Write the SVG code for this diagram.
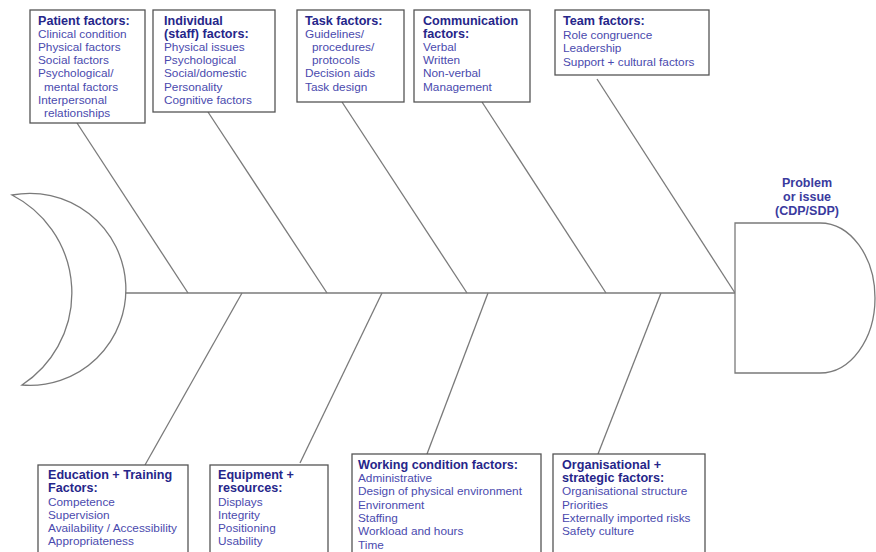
<svg xmlns="http://www.w3.org/2000/svg" width="876" height="552" viewBox="0 0 876 552">
<style>
.box{fill:#fff;stroke:#555;stroke-width:1.3}
.bone{stroke:#7a7a7a;stroke-width:1.3;fill:none}
.shape{fill:#fff;stroke:#7a7a7a;stroke-width:1.3}
text{font-family:"Liberation Sans",Arial,sans-serif}
.t{font-size:12.6px;font-weight:bold;fill:#26268a}
.i{font-size:11.8px;fill:#4a4aae}
.h{font-size:12.5px;font-weight:bold;fill:#3a3a9e}
</style>
<rect width="876" height="552" fill="#fff"/>
<g id="connectors">
<line class="bone" x1="124" y1="293" x2="735" y2="293"/>
<line class="bone" x1="77" y1="123" x2="188" y2="293"/>
<line class="bone" x1="208" y1="112" x2="327" y2="293"/>
<line class="bone" x1="342" y1="102" x2="467" y2="293"/>
<line class="bone" x1="482" y1="102" x2="606" y2="293"/>
<line class="bone" x1="597" y1="79" x2="735" y2="293"/>
<line class="bone" x1="242" y1="293" x2="145" y2="465"/>
<line class="bone" x1="382" y1="293" x2="300" y2="463"/>
<line class="bone" x1="488" y1="293" x2="427" y2="454"/>
<line class="bone" x1="661" y1="293" x2="598" y2="454"/>
</g>
<g id="tail">
<path class="shape" d="M12,195 A96,96 0 1 1 22,385 A110,110 0 0 0 12,195 Z"/>
</g>
<g id="head">
<path class="shape" d="M735,223 L820,223 A55,75 0 0 1 820,373 L735,373 Z"/>
<text class="h" text-anchor="middle" x="807" y="187">Problem</text>
<text class="h" text-anchor="middle" x="807" y="201">or issue</text>
<text class="h" text-anchor="middle" x="807" y="215">(CDP/SDP)</text>
</g>
<g id="patient">
<rect class="box" x="30" y="10" width="115" height="113"/>
<text class="t" x="38" y="24.5">Patient factors:</text>
<text class="i" x="38" y="37.5">Clinical condition</text>
<text class="i" x="38" y="50.8">Physical factors</text>
<text class="i" x="38" y="64.1">Social factors</text>
<text class="i" x="38" y="77.4">Psychological/</text>
<text class="i" x="44" y="90.7">mental factors</text>
<text class="i" x="38" y="104">Interpersonal</text>
<text class="i" x="44" y="117.3">relationships</text>
</g>
<g id="individual">
<rect class="box" x="153" y="10" width="122" height="102"/>
<text class="t" x="164" y="24.5">Individual</text>
<text class="t" x="164" y="37.8">(staff) factors:</text>
<text class="i" x="164" y="50.8">Physical issues</text>
<text class="i" x="164" y="64.1">Psychological</text>
<text class="i" x="164" y="77.4">Social/domestic</text>
<text class="i" x="164" y="90.7">Personality</text>
<text class="i" x="164" y="104">Cognitive factors</text>
</g>
<g id="task">
<rect class="box" x="297" y="10" width="107" height="92"/>
<text class="t" x="305" y="24.5">Task factors:</text>
<text class="i" x="305" y="37.5">Guidelines/</text>
<text class="i" x="312" y="50.8">procedures/</text>
<text class="i" x="312" y="64.1">protocols</text>
<text class="i" x="305" y="77.4">Decision aids</text>
<text class="i" x="305" y="90.7">Task design</text>
</g>
<g id="communication">
<rect class="box" x="414" y="10" width="116" height="92"/>
<text class="t" x="423" y="24.5">Communication</text>
<text class="t" x="423" y="37.8">factors:</text>
<text class="i" x="423" y="50.8">Verbal</text>
<text class="i" x="423" y="64.1">Written</text>
<text class="i" x="423" y="77.4">Non-verbal</text>
<text class="i" x="423" y="90.7">Management</text>
</g>
<g id="team">
<rect class="box" x="555" y="10" width="154" height="65"/>
<text class="t" x="563" y="24.5">Team factors:</text>
<text class="i" x="563" y="39">Role congruence</text>
<text class="i" x="563" y="52.3">Leadership</text>
<text class="i" x="563" y="65.6">Support + cultural factors</text>
</g>
<g id="education">
<rect class="box" x="38" y="465" width="150" height="100"/>
<text class="t" x="48" y="478.8">Education + Training</text>
<text class="t" x="48" y="492.3">Factors:</text>
<text class="i" x="48" y="505.5">Competence</text>
<text class="i" x="48" y="518.8">Supervision</text>
<text class="i" x="48" y="532">Availability / Accessibility</text>
<text class="i" x="48" y="545">Appropriateness</text>
</g>
<g id="equipment">
<rect class="box" x="210" y="465" width="118" height="100"/>
<text class="t" x="218" y="478.8">Equipment +</text>
<text class="t" x="218" y="492.3">resources:</text>
<text class="i" x="218" y="505.5">Displays</text>
<text class="i" x="218" y="518.8">Integrity</text>
<text class="i" x="218" y="532">Positioning</text>
<text class="i" x="218" y="545">Usability</text>
</g>
<g id="working">
<rect class="box" x="352" y="454" width="189" height="110"/>
<text class="t" x="358" y="469">Working condition factors:</text>
<text class="i" x="358" y="482">Administrative</text>
<text class="i" x="358" y="495.3">Design of physical environment</text>
<text class="i" x="358" y="508.6">Environment</text>
<text class="i" x="358" y="521.9">Staffing</text>
<text class="i" x="358" y="535.2">Workload and hours</text>
<text class="i" x="358" y="548.5">Time</text>
</g>
<g id="organisational">
<rect class="box" x="553" y="454" width="152" height="110"/>
<text class="t" x="562" y="469">Organisational +</text>
<text class="t" x="562" y="482.3">strategic factors:</text>
<text class="i" x="562" y="495.3">Organisational structure</text>
<text class="i" x="562" y="508.6">Priorities</text>
<text class="i" x="562" y="521.9">Externally imported risks</text>
<text class="i" x="562" y="535.2">Safety culture</text>
</g>
</svg>
